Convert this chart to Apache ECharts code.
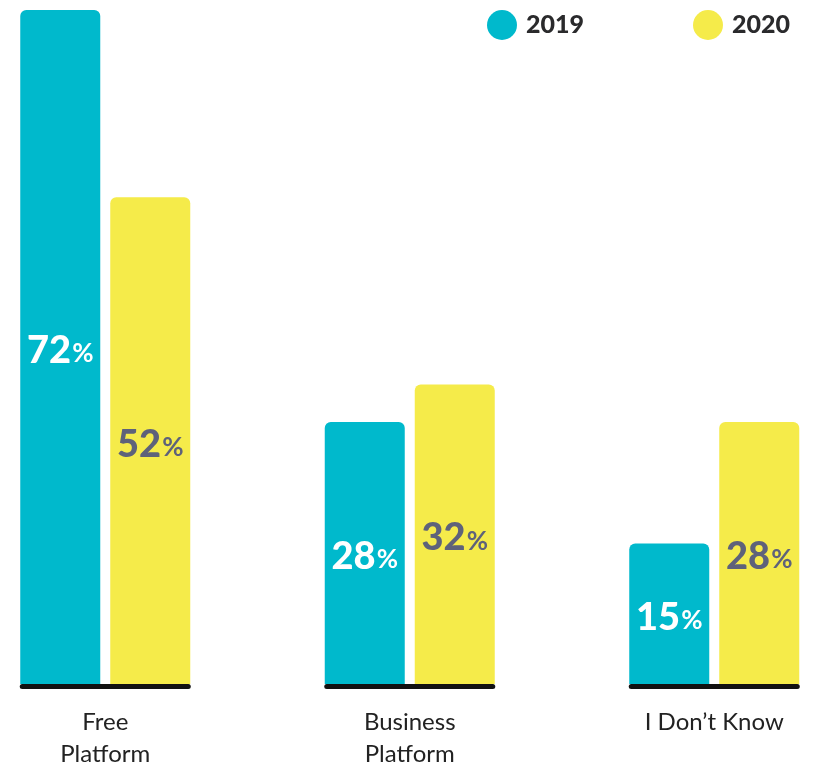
<!DOCTYPE html>
<html>
<head>
<meta charset="utf-8">
<title>Platform usage 2019 vs 2020</title>
<script src="https://cdn.jsdelivr.net/npm/echarts@6/dist/echarts.min.js"></script>
<style>
  html, body { margin: 0; padding: 0; background: #ffffff; }
  #chart { width: 817px; height: 766px; }
</style>
</head>
<body>
<div id="chart"></div>
<script>
// Survey answers per platform type, share of respondents (%)
const categories = ['Free\nPlatform', 'Business\nPlatform', 'I Don\u2019t Know'];
const seriesNames = ['2019', '2020'];
const values2019 = [72, 28, 15];
const values2020 = [52, 32, 28];

const TEAL = '#00B9CC';
const YELLOW = '#F5EB4A';
const LABEL_DARK = '#5E627A';
const FONT = 'Lato, "Open Sans", sans-serif';

const BAR_W = 80;
const BAR_GAP = 10;

function pctLabel(color) {
  return {
    show: true,
    position: 'inside',
    offset: [0, 4],
    formatter: p => '{v|' + p.value + '}{p|%}',
    rich: {
      v: { fontFamily: FONT, fontWeight: 900, fontSize: 38, color: color },
      p: { fontFamily: FONT, fontWeight: 700, fontSize: 26, color: color, padding: [6, 0, 0, 1] }
    }
  };
}

function legendBlock(name, left) {
  return {
    data: [name], left: left, top: 10, padding: 0,
    icon: 'circle', itemWidth: 30, itemHeight: 30, itemGap: 0,
    textStyle: { fontFamily: FONT, fontWeight: 900, fontSize: 25, color: '#2A2A2C', padding: [2, 0, 0, 4] }
  };
}

const chart = echarts.init(document.getElementById('chart'), null, { renderer: 'canvas' });

chart.setOption({
  animation: false,
  backgroundColor: '#ffffff',
  legend: [legendBlock(seriesNames[0], 487), legendBlock(seriesNames[1], 693)],
  grid: { left: -47, width: 913.5, top: 10, bottom: 82, outerBoundsMode: 'none' },
  xAxis: {
    type: 'category',
    data: categories,
    axisLine: { show: false },
    axisTick: { show: false },
    axisLabel: {
      margin: 22,
      fontFamily: FONT,
      fontSize: 24,
      lineHeight: 32,
      color: '#222222'
    }
  },
  yAxis: {
    type: 'value',
    min: 0,
    max: 72,
    show: false,
    splitLine: { show: false }
  },
  series: [
    {
      name: seriesNames[0],
      type: 'bar',
      data: values2019,
      barWidth: BAR_W,
      barGap: (BAR_GAP / BAR_W * 100) + '%',
      itemStyle: { color: TEAL, borderRadius: [6, 6, 0, 0] },
      label: pctLabel('#ffffff')
    },
    {
      name: seriesNames[1],
      type: 'bar',
      data: values2020,
      barWidth: BAR_W,
      itemStyle: { color: YELLOW, borderRadius: [6, 6, 0, 0] },
      label: pctLabel(LABEL_DARK)
    },
    {
      // black base rule under each pair of bars
      type: 'custom',
      silent: true,
      z: 5,
      data: categories.map((c, i) => [i, 0]),
      renderItem: function (params, api) {
        const p = api.coord([api.value(0), 0]);
        const half = BAR_W + BAR_GAP / 2 - 2;
        return {
          type: 'line',
          shape: { x1: p[0] - half, y1: p[1] + 2.5, x2: p[0] + half, y2: p[1] + 2.5 },
          style: { stroke: '#111111', lineWidth: 5, lineCap: 'round' }
        };
      }
    }
  ]
});
</script>
</body>
</html>
